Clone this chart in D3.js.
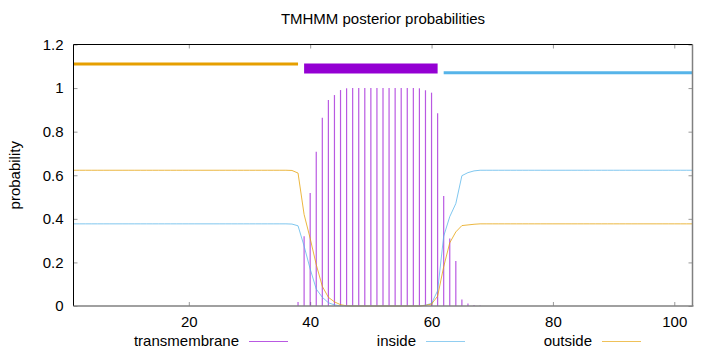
<!DOCTYPE html>
<html>
<head>
<meta charset="utf-8">
<script src="https://cdn.jsdelivr.net/npm/d3@7"></script>
<style>
  body { margin: 0; background: #fff; }
  svg text { font-family: "Liberation Sans", Arial, sans-serif; fill: #000; }
</style>
</head>
<body>
<div id="chart"></div>
<script>
// sequence positions 1..103
var positions = d3.range(1, 104);

// posterior probability per residue
var transmembrane = [
  0, 0, 0, 0, 0, 0, 0, 0, 0, 0,
  0, 0, 0, 0, 0, 0, 0, 0, 0, 0,
  0, 0, 0, 0, 0, 0, 0, 0, 0, 0,
  0, 0, 0, 0, 0, 0, 0, 0.018, 0.32, 0.518,
  0.708, 0.864, 0.945, 0.968, 0.991, 0.999, 1, 1, 1, 1,
  1, 1, 1, 1, 1, 1, 1, 0.999, 0.99, 0.979,
  0.884, 0.505, 0.31, 0.207, 0.03, 0.012, 0.005, 0.002, 0, 0,
  0, 0, 0, 0, 0, 0, 0, 0, 0, 0,
  0, 0, 0, 0, 0, 0, 0, 0, 0, 0,
  0, 0, 0, 0, 0, 0, 0, 0, 0, 0,
  0, 0, 0
];
var inside = [
  0.377, 0.377, 0.377, 0.377, 0.377, 0.377, 0.377, 0.377, 0.377, 0.377,
  0.377, 0.377, 0.377, 0.377, 0.377, 0.377, 0.377, 0.377, 0.377, 0.377,
  0.377, 0.377, 0.377, 0.377, 0.377, 0.377, 0.377, 0.377, 0.377, 0.377,
  0.377, 0.377, 0.377, 0.377, 0.377, 0.377, 0.376, 0.368, 0.275, 0.17,
  0.078, 0.04, 0.015, 0.005, 0.001, 0, 0, 0, 0, 0,
  0, 0, 0, 0, 0, 0, 0, 0, 0.004, 0.012,
  0.07, 0.32, 0.41, 0.47, 0.598, 0.612, 0.62, 0.623, 0.623, 0.623,
  0.623, 0.623, 0.623, 0.623, 0.623, 0.623, 0.623, 0.623, 0.623, 0.623,
  0.623, 0.623, 0.623, 0.623, 0.623, 0.623, 0.623, 0.623, 0.623, 0.623,
  0.623, 0.623, 0.623, 0.623, 0.623, 0.623, 0.623, 0.623, 0.623, 0.623,
  0.623, 0.623, 0.623
];
var outside = [
  0.623, 0.623, 0.623, 0.623, 0.623, 0.623, 0.623, 0.623, 0.623, 0.623,
  0.623, 0.623, 0.623, 0.623, 0.623, 0.623, 0.623, 0.623, 0.623, 0.623,
  0.623, 0.623, 0.623, 0.623, 0.623, 0.623, 0.623, 0.623, 0.623, 0.623,
  0.623, 0.623, 0.623, 0.623, 0.623, 0.623, 0.622, 0.61, 0.42, 0.31,
  0.19, 0.09, 0.04, 0.019, 0.006, 0.001, 0, 0, 0, 0,
  0, 0, 0, 0, 0, 0, 0, 0, 0.003, 0.009,
  0.045, 0.18, 0.29, 0.34, 0.369, 0.372, 0.375, 0.377, 0.377, 0.377,
  0.377, 0.377, 0.377, 0.377, 0.377, 0.377, 0.377, 0.377, 0.377, 0.377,
  0.377, 0.377, 0.377, 0.377, 0.377, 0.377, 0.377, 0.377, 0.377, 0.377,
  0.377, 0.377, 0.377, 0.377, 0.377, 0.377, 0.377, 0.377, 0.377, 0.377,
  0.377, 0.377, 0.377
];

// predicted topology segments drawn above the curves
var segStart = [1, 39, 62];
var segEnd = [38, 61, 103];
var segType = ["outside", "TMhelix", "inside"];
var segLevel = [1.11, 1.09, 1.07];

var yTicks = [0, 0.2, 0.4, 0.6, 0.8, 1, 1.2];
var xTicks = [20, 40, 60, 80, 100];

var colors = {
  transmembrane: "#9400d3",
  TMhelix: "#9400d3",
  inside: "#56b4e9",
  outside: "#e69f00"
};

var width = 720, height = 352;
var margin = {left: 73.5, right: 27.5, top: 44.5, bottom: 46};

var xScale = d3.scaleLinear().domain([1, 103]).range([margin.left, width - margin.right]);
var yScale = d3.scaleLinear().domain([0, 1.2]).range([height - margin.bottom, margin.top]);

var svg = d3.select("#chart").append("svg")
  .attr("width", width)
  .attr("height", height);

// title
svg.append("text")
  .attr("x", (margin.left + width - margin.right) / 2)
  .attr("y", 24)
  .attr("text-anchor", "middle")
  .style("font-size", "15px")
  .text("TMHMM posterior probabilities");

// y label
svg.append("text")
  .attr("transform", "translate(20," + ((margin.top + height - margin.bottom) / 2) + ") rotate(-90)")
  .attr("text-anchor", "middle")
  .style("font-size", "15px")
  .text("probability");

// axes, ticks inward + mirrored
var fmt = function(d){ return d3.format("~g")(d); };

svg.append("g")
  .attr("transform", "translate(0," + (height - margin.bottom) + ")")
  .call(d3.axisBottom(xScale).tickValues(xTicks).tickSize(-4).tickPadding(10).tickFormat(fmt))
  .call(function(g){ g.select(".domain").remove(); });

svg.append("g")
  .attr("transform", "translate(0," + margin.top + ")")
  .call(d3.axisTop(xScale).tickValues(xTicks).tickSize(-4).tickFormat(""))
  .call(function(g){ g.select(".domain").remove(); });

svg.append("g")
  .attr("transform", "translate(" + margin.left + ",0)")
  .call(d3.axisLeft(yScale).tickValues(yTicks).tickSize(-4).tickPadding(10).tickFormat(fmt))
  .call(function(g){ g.select(".domain").remove(); });

svg.append("g")
  .attr("transform", "translate(" + (width - margin.right) + ",0)")
  .call(d3.axisRight(yScale).tickValues(yTicks).tickSize(-4).tickFormat(""))
  .call(function(g){ g.select(".domain").remove(); });

svg.selectAll(".tick line").attr("stroke", "#999");
svg.selectAll(".tick text")
  .style("font-size", "15px")
  .style("font-family", "Liberation Sans, Arial, sans-serif")
  .attr("fill", "#000");

// impulses for transmembrane
svg.append("g").selectAll("line")
  .data(positions.filter(function(p){ return transmembrane[p - 1] > 0; }))
  .enter()
  .append("line")
  .attr("x1", function(p){ return xScale(p); })
  .attr("x2", function(p){ return xScale(p); })
  .attr("y1", yScale(0))
  .attr("y2", function(p){ return yScale(transmembrane[p - 1]); })
  .attr("stroke", colors.transmembrane)
  .attr("stroke-opacity", 0.65)
  .attr("stroke-width", 1.2);

// inside / outside curves
var line = d3.line()
  .x(function(d){ return xScale(d[0]); })
  .y(function(d){ return yScale(d[1]); });

[["inside", inside], ["outside", outside]].forEach(function(s){
  svg.append("path")
    .datum(positions.map(function(p){ return [p, s[1][p - 1]]; }))
    .attr("d", line)
    .attr("fill", "none")
    .attr("stroke", colors[s[0]])
    .attr("stroke-opacity", 0.75)
    .attr("stroke-width", 1);
});

// topology segments
svg.append("g").selectAll("line")
  .data(segType)
  .enter()
  .append("line")
  .attr("x1", function(d, i){ return xScale(segStart[i]); })
  .attr("x2", function(d, i){ return xScale(segEnd[i]); })
  .attr("y1", function(d, i){ return yScale(segLevel[i]); })
  .attr("y2", function(d, i){ return yScale(segLevel[i]); })
  .attr("stroke", function(d){ return colors[d]; })
  .attr("stroke-width", function(d){ return d === "TMhelix" ? 10 : 3; });

// border
var x0 = margin.left, x1 = width - margin.right, y0 = margin.top, y1 = height - margin.bottom;
svg.append("line").attr("x1", x0).attr("x2", x1).attr("y1", y0).attr("y2", y0).attr("stroke", "#000");
svg.append("line").attr("x1", x0).attr("x2", x0).attr("y1", y0).attr("y2", y1).attr("stroke", "#000");
svg.append("line").attr("x1", x0).attr("x2", x1 + 1).attr("y1", y1).attr("y2", y1).attr("stroke", "#808080").attr("stroke-width", 1.5);
svg.append("line").attr("x1", x1).attr("x2", x1).attr("y1", y0).attr("y2", y1).attr("stroke", "#808080").attr("stroke-width", 1.5);

// legend below
var legendNames = ["transmembrane", "inside", "outside"];
var legendX = [249, 426, 602];
var legend = svg.append("g").selectAll("g")
  .data(legendNames)
  .enter()
  .append("g");

legend.append("text")
  .attr("x", function(d, i){ return legendX[i] - 10; })
  .attr("y", 346)
  .attr("text-anchor", "end")
  .style("font-size", "15px")
  .text(function(d){ return d; });

legend.append("line")
  .attr("x1", function(d, i){ return legendX[i]; })
  .attr("x2", function(d, i){ return legendX[i] + 39; })
  .attr("y1", 341.5)
  .attr("y2", 341.5)
  .attr("stroke", function(d){ return colors[d]; })
  .attr("stroke-opacity", 0.65)
  .attr("stroke-width", 1);
</script>
</body>
</html>
